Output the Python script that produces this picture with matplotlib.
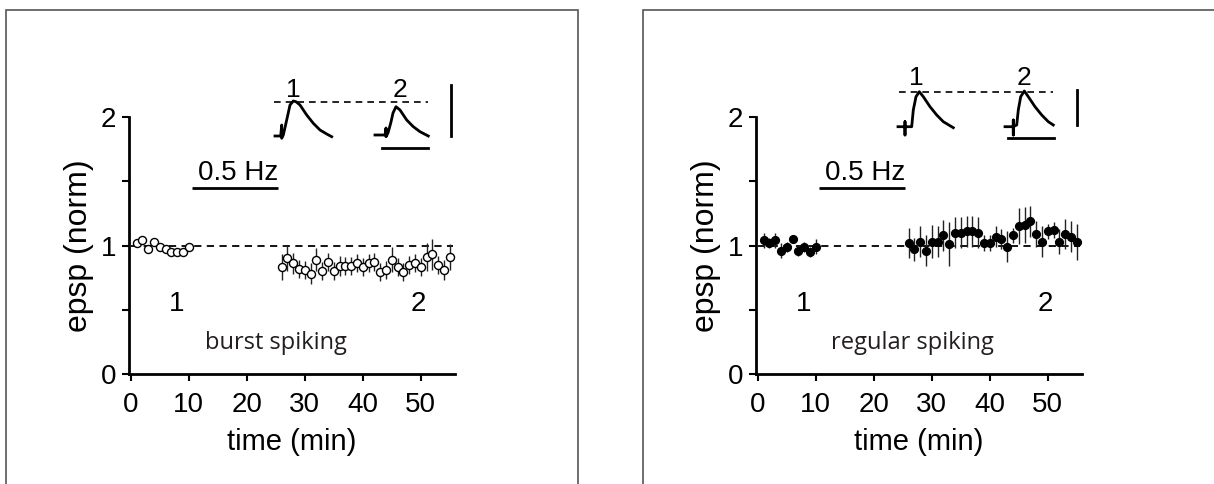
import matplotlib
matplotlib.use("Agg")
import matplotlib.pyplot as plt
from matplotlib.patches import Rectangle

plt.rcParams['font.family'] = ['Liberation Sans', 'DejaVu Sans']

# time points (min)
t_base = [1, 2, 3, 4, 5, 6, 7, 8, 9, 10]
t_post = list(range(26, 56))

# burst spiking cells (open circles)
burst_base = [1.02, 1.04, 0.97, 1.03, 0.99, 0.97, 0.95, 0.95, 0.95, 0.99]
burst_base_err = [0.02, 0.02, 0.03, 0.02, 0.02, 0.02, 0.02, 0.02, 0.02, 0.03]
burst_post = [0.83, 0.90, 0.86, 0.82, 0.81, 0.78, 0.89, 0.80, 0.87, 0.80,
              0.84, 0.84, 0.84, 0.86, 0.83, 0.86, 0.87, 0.79, 0.81, 0.89,
              0.83, 0.79, 0.85, 0.86, 0.83, 0.91, 0.93, 0.85, 0.81, 0.91]
burst_post_err = [0.10, 0.10, 0.08, 0.07, 0.07, 0.08, 0.09, 0.07, 0.07, 0.07,
                  0.08, 0.07, 0.07, 0.07, 0.07, 0.07, 0.07, 0.07, 0.07, 0.10,
                  0.07, 0.07, 0.07, 0.07, 0.07, 0.11, 0.12, 0.07, 0.08, 0.10]

# regular spiking cells (filled circles)
reg_base = [1.04, 1.02, 1.04, 0.96, 0.99, 1.05, 0.96, 0.99, 0.95, 0.99]
reg_base_err = [0.06, 0.04, 0.06, 0.06, 0.04, 0.03, 0.04, 0.04, 0.04, 0.06]
reg_post = [1.02, 0.97, 1.03, 0.96, 1.03, 1.03, 1.08, 1.01, 1.10, 1.10,
            1.11, 1.11, 1.10, 1.02, 1.02, 1.07, 1.05, 0.99, 1.08, 1.15,
            1.16, 1.19, 1.09, 1.03, 1.11, 1.12, 1.03, 1.09, 1.07, 1.03]
reg_post_err = [0.12, 0.09, 0.12, 0.12, 0.13, 0.12, 0.12, 0.17, 0.12, 0.12,
                0.12, 0.12, 0.12, 0.06, 0.06, 0.08, 0.08, 0.12, 0.06, 0.14,
                0.14, 0.12, 0.10, 0.12, 0.06, 0.06, 0.10, 0.12, 0.12, 0.14]

stim = [10.6, 25.3]   # 0.5 Hz stimulation period (min)

# example epsp traces (ms, arbitrary mV)
burst_tr1_t = [5, 10.7, 11.7, 11.7, 13.3, 16.7, 20, 23.3, 26, 30, 36.7, 43.3, 50, 56.7, 61.7]
burst_tr1_v = [14, 14, 25, 11.7, 15, 30, 45, 49, 48.3, 45, 35, 26.7, 20, 16, 13.3]
burst_tr2_t = [105, 115, 116, 116, 118, 121, 123, 126, 130, 136.7, 143.3, 150, 158.3]
burst_tr2_v = [15, 15, 22, 13.3, 17, 28, 37, 43.3, 40, 30, 23.3, 18.3, 14]
reg_tr1_t = [3, 10, 10, 10, 10, 16.7, 18.3, 21, 24.3, 28.3, 35, 41.7, 48.3, 58.3]
reg_tr1_v = [23.3, 23.3, 28.3, 15, 23.3, 23.3, 40, 53.3, 58.3, 53.3, 43.3, 35, 28.3, 22.3]
reg_tr2_t = [110, 118.3, 118.3, 118.3, 118.3, 121.7, 123.3, 125.7, 129.3, 133.3, 140, 146.7, 153.3, 158.3]
reg_tr2_v = [23.3, 23.3, 30, 15, 23.3, 25, 40, 53.3, 59, 53.3, 43.3, 35, 28.3, 25]

W, H = 1214, 484
fig = plt.figure(figsize=(W / 100, H / 100), dpi=100)

# frames around the two panels
fig.patches.append(Rectangle((6 / W, -0.1), 572 / W, 1.1 - 10 / H, transform=fig.transFigure,
                             fill=False, ec='#555555', lw=1.2))
fig.patches.append(Rectangle((643 / W, -0.1), 0.6, 1.1 - 10 / H, transform=fig.transFigure,
                             fill=False, ec='#555555', lw=1.2))


def panel(left_px, base, base_err, post, post_err, filled, name, name_x,
          inset_left, tr1, tr2, lab_v, peak_v, hbar, vbar):
    ax = fig.add_axes([left_px / W, 1 - 374 / H, 326 / W, 257 / H])
    ax.set_xlim(-0.4, 55.8)
    ax.set_ylim(0, 2)
    fc = 'black' if filled else 'white'
    ms = 5.6 if filled else 5.8
    for tt, yy, ee in [(t_base, base, base_err), (t_post, post, post_err)]:
        ax.errorbar(tt, yy, yerr=ee, fmt='o', ms=ms, mfc=fc, mec='black', mew=1.0,
                    ecolor='#222222', elinewidth=1.0, capsize=0, zorder=3)
    ax.plot([0, 55.6], [1, 1], color='black', lw=1.3, ls=(0, (4, 3)), zorder=1)
    ax.plot(stim, [1.445, 1.445], color='black', lw=2.0, solid_capstyle='butt')
    ax.text(sum(stim) / 2 + 0.6, 1.51, '0.5 Hz', ha='center', va='baseline', fontsize=20)
    ax.text(7.9, 0.49, '1', ha='center', va='baseline', fontsize=20)
    ax.text(49.5, 0.49, '2', ha='center', va='baseline', fontsize=20)
    ax.text(name_x, 0.24, name, ha='center', va='center', fontsize=17,
            family=['Open Sans', 'DejaVu Sans'], color='#231f20')

    for s in ['top', 'right']:
        ax.spines[s].set_visible(False)
    for s in ['left', 'bottom']:
        ax.spines[s].set_linewidth(2.0)
    ax.set_xticks([0, 10, 20, 30, 40, 50])
    ax.set_yticks([0, 1, 2])
    ax.set_yticks([0.5, 1.5], minor=True)
    ax.tick_params(which='both', direction='out', length=5, width=1.5, labelsize=20)
    ax.tick_params(axis='x', pad=8)
    ax.tick_params(axis='y', pad=4)
    ax.set_xlabel('time (min)', fontsize=21)
    ax.set_ylabel('epsp (norm)', fontsize=23)
    ax.xaxis.set_label_coords(0.5, -0.21)
    ax.yaxis.set_label_coords(-0.105, 0.5)

    ins = fig.add_axes([inset_left / W, 1 - 150 / H, 190 / W, 85 / H])
    ins.set_xlim(0, 190)
    ins.set_ylim(0, 85)
    ins.axis('off')
    ins.plot(tr1[0], tr1[1], color='black', lw=2.0)
    ins.plot(tr2[0], tr2[1], color='black', lw=2.0)
    ins.plot([4, 158], [peak_v, peak_v], color='black', lw=1.2, ls=(0, (4, 3)))
    ins.text(tr1[0][7], lab_v, '1', ha='center', va='center', fontsize=19)
    ins.text(tr2[0][8], lab_v, '2', ha='center', va='center', fontsize=19)
    ins.plot(hbar[:2], [hbar[2], hbar[2]], color='black', lw=2.0)
    ins.plot([vbar[0], vbar[0]], vbar[1:], color='black', lw=2.0)
    return ax


panel(128.5, burst_base, burst_base_err, burst_post, burst_post_err, False,
      'burst spiking', 25.0, 270, (burst_tr1_t, burst_tr1_v), (burst_tr2_t, burst_tr2_v),
      60, 48.3, [111.7, 158.3, 1.7], [181, 14, 65])
panel(755.5, reg_base, reg_base_err, reg_post, reg_post_err, True,
      'regular spiking', 26.6, 895, (reg_tr1_t, reg_tr1_v), (reg_tr2_t, reg_tr2_v),
      71.7, 57.7, [113.3, 159, 11.7], [181.7, 25, 60])

fig.savefig('out.png', dpi=100)
